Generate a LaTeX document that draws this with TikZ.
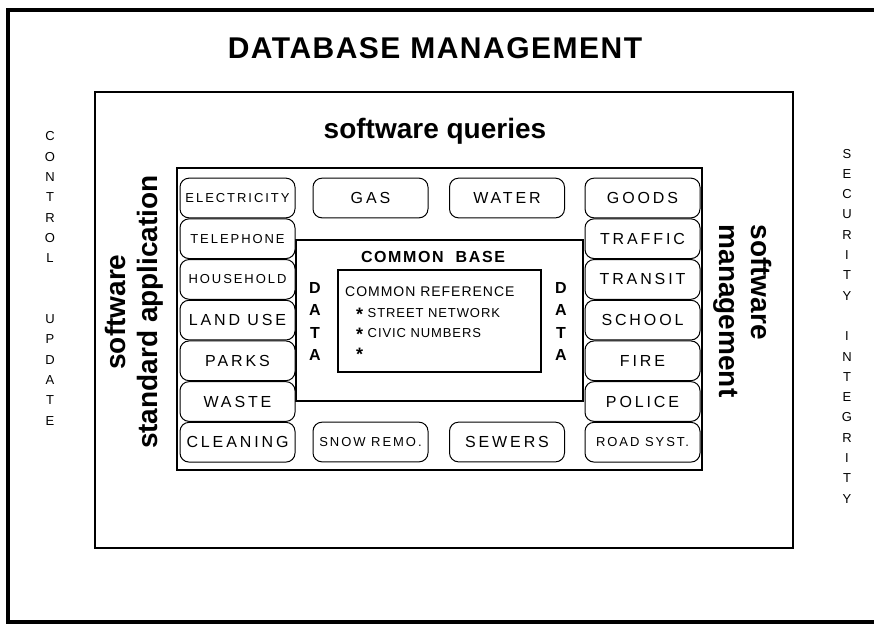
\documentclass[tikz,border=0pt]{standalone}
\usepackage{fontspec}
\setmainfont{Liberation Sans}
\usetikzlibrary{positioning}

\newcommand{\refstar}{\raisebox{-3.5pt}{\fontsize{18}{18}\selectfont\bfseries *}}

\begin{document}
\begin{tikzpicture}[x=1pt, y=-1pt, node distance=0pt,
  pill/.style={draw, line width=1pt, rounded corners=9pt, fill=white,
               minimum width=115pt, minimum height=39.7pt, inner sep=0pt,
               font=\fontsize{16}{18}\selectfont\addfontfeature{LetterSpace=18}},
  smallpill/.style={pill, font=\fontsize{13}{15}\selectfont\addfontfeature{LetterSpace=15}},
  heading/.style={font=\fontsize{28}{32}\selectfont\bfseries, inner sep=0pt},
  column/.style={font=\fontsize{13}{20.3}\selectfont, align=center, inner sep=0pt},
  datacol/.style={font=\fontsize{16}{22.3}\selectfont\bfseries, align=center, inner sep=0pt}]

  \useasboundingbox (0,0) rectangle (874,625);

  % frames
  \draw[line width=3.5pt] (874,10) -- (8,10) -- (8,622) -- (874,622);
  \draw[line width=2pt] (95,92) rectangle (793,548);
  \draw[line width=2.5pt] (177,168) rectangle (702,470);
  \draw[line width=2pt] (296,240) rectangle (583,401);
  \draw[line width=1.5pt] (338,270) rectangle (541,372);

  % left column
  \node[smallpill] (elec) at (237.5,198) {ELECTRICITY};
  \node[smallpill, below=of elec]  (tel)   {TELEPHONE};
  \node[smallpill, below=of tel]   (house) {HOUSEHOLD};
  \node[pill, below=of house]      (land)  {LAND USE};
  \node[pill, below=of land]       (parks) {PARKS};
  \node[pill, below=of parks]      (waste) {WASTE};
  \node[pill, below=of waste]      (clean) {CLEANING};

  % right column
  \node[pill] (goods) at (642.5,198) {GOODS};
  \node[pill, below=of goods]      (traffic) {TRAFFIC};
  \node[pill, below=of traffic]    (transit) {TRANSIT};
  \node[pill, below=of transit]    (school)  {SCHOOL};
  \node[pill, below=of school]     (fire)    {FIRE};
  \node[pill, below=of fire]       (police)  {POLICE};
  \node[smallpill, below=of police] (road)   {ROAD SYST.};

  % top and bottom rows
  \node[pill] (gas)   at (370.5,198) {GAS};
  \node[pill] (water) at (507,198)   {WATER};
  \node[smallpill] (snow) at (370.5,442) {SNOW REMO.};
  \node[pill] (sewers) at (507,442)  {SEWERS};

  % labels
  \node[font=\fontsize{30}{34}\selectfont\bfseries\addfontfeature{LetterSpace=5}] (title) at (435,48) {DATABASE MANAGEMENT};
  \node[heading] (queries) at (435,131) {software queries};
  \node[heading, rotate=90, align=center] (stdapp) at (134,312) {software\\standard application};
  \node[heading, rotate=-90, align=left] (mgmt) at (743,311) {software\\management};
  \node[column] (control) at (50,278.5) {C\\O\\N\\T\\R\\O\\L\\ \\ \\U\\P\\D\\A\\T\\E};
  \node[column] (security) at (847,326) {S\\E\\C\\U\\R\\I\\T\\Y\\ \\I\\N\\T\\E\\G\\R\\I\\T\\Y};
  \node[datacol] (dataleft)  at (315,321.5) {D\\A\\T\\A};
  \node[datacol] (dataright) at (561,321.5) {D\\A\\T\\A};
  \node[font=\fontsize{16}{18}\selectfont\bfseries\addfontfeature{LetterSpace=10}] (base) at (433,257) {COMMON\ \ BASE};
  \node[anchor=west, inner sep=0pt, font=\fontsize{14}{16}\selectfont\addfontfeature{LetterSpace=7}] (reftitle) at (345,292) {COMMON REFERENCE};
  \node[anchor=north west, align=left, inner sep=0pt, font=\fontsize{13}{20}\selectfont\addfontfeature{LetterSpace=7}] (reflist) at (356,308) {\refstar\ STREET NETWORK\\\refstar\ CIVIC NUMBERS\\\refstar};
\end{tikzpicture}
\end{document}
